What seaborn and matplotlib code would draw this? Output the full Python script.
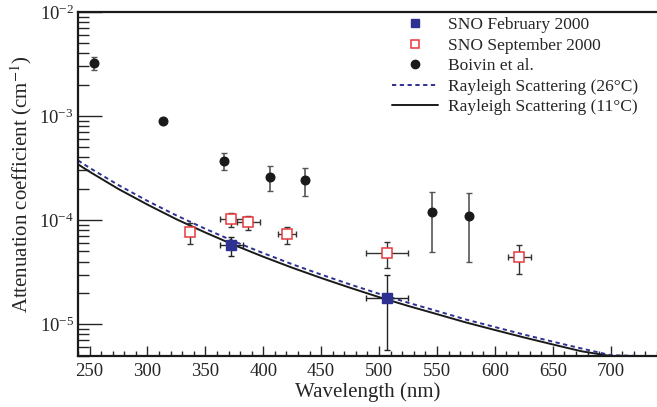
import numpy as np
import matplotlib
matplotlib.use("Agg")
import matplotlib.pyplot as plt
import matplotlib.ticker as mticker
from matplotlib.lines import Line2D
import seaborn as sns

sns.set_style("ticks")
plt.rcParams["font.family"] = ["Liberation Serif", "DejaVu Serif"]
plt.rcParams["mathtext.fontset"] = "stix"

# --- data ---
# Boivin et al. (value, lower, upper)
boivin_wl = [254, 313, 366, 406, 436, 546, 578]
boivin_val = [3.26e-3, 8.95e-4, 3.72e-4, 2.61e-4, 2.41e-4, 1.19e-4, 1.09e-4]
boivin_lo = [2.8e-3, 8.95e-4, 3.03e-4, 1.9e-4, 1.70e-4, 4.96e-5, 3.97e-5]
boivin_hi = [3.7e-3, 8.95e-4, 4.37e-4, 3.3e-4, 3.14e-4, 1.87e-4, 1.81e-4]

# SNO September 2000
sep_wl = [337, 372.5, 387, 420.5, 507, 621]
sep_wl_err = [0, 10, 10, 8, 18, 10]
sep_val = [7.62e-5, 1.02e-4, 9.5e-5, 7.28e-5, 4.85e-5, 4.4e-5]
sep_lo = [5.9e-5, 8.6e-5, 8.1e-5, 5.9e-5, 3.5e-5, 3.07e-5]
sep_hi = [9.3e-5, 1.16e-4, 1.10e-4, 8.6e-5, 6.2e-5, 5.75e-5]

# SNO February 2000
feb_wl = [372.5, 507]
feb_wl_err = [10, 18]
feb_val = [5.75e-5, 1.79e-5]
feb_lo = [4.5e-5, 5.7e-6]
feb_hi = [6.9e-5, 3.0e-5]

# Rayleigh scattering curves
ray_wl = [240, 250, 275, 300, 325, 350, 375, 400, 425, 450, 475, 500,
          525, 550, 575, 600, 625, 650, 675, 700, 725, 740]
ray_11 = [3.44e-4, 2.92e-4, 1.99e-4, 1.41e-4, 1.02e-4, 7.60e-5, 5.76e-5,
          4.45e-5, 3.49e-5, 2.78e-5, 2.24e-5, 1.82e-5, 1.50e-5, 1.25e-5,
          1.04e-5, 8.80e-6, 7.47e-6, 6.39e-6, 5.49e-6, 4.75e-6, 4.13e-6, 3.80e-6]
ray_26 = [3.75e-4, 3.18e-4, 2.17e-4, 1.53e-4, 1.11e-4, 8.25e-5, 6.24e-5,
          4.82e-5, 3.77e-5, 3.00e-5, 2.41e-5, 1.96e-5, 1.61e-5, 1.34e-5,
          1.11e-5, 9.40e-6, 7.96e-6, 6.80e-6, 5.84e-6, 5.04e-6, 4.38e-6, 4.03e-6]

YMIN, YMAX = 4.95e-6, 1e-2
XMIN, XMAX = 240, 740

BLUE = "#2e3192"
RED = "#e8383d"
BLACK = "#1a1a1a"

fig = plt.figure(figsize=(6.57, 4.07), dpi=100)
ax = fig.add_axes([78 / 657, 1 - 356 / 407, 1 - 78 / 657, (356 - 12) / 407])

# curves (drawn along the frame where they drop below it, like the original)
sns.lineplot(x=ray_wl, y=np.maximum(ray_11, YMIN), ax=ax, color=BLACK, lw=1.4,
             clip_on=False)
sns.lineplot(x=ray_wl, y=np.maximum(ray_26, YMIN), ax=ax, color=BLUE, lw=1.4,
             dashes=(2.2, 1.8), clip_on=False)


def yerr(val, lo, hi):
    v = np.array(val)
    return [v - np.array(lo), np.array(hi) - v]


ax.errorbar(boivin_wl, boivin_val, yerr=yerr(boivin_val, boivin_lo, boivin_hi),
            fmt="none", ecolor="#555555", elinewidth=1.2, capsize=2.5, capthick=1)
ax.errorbar(sep_wl, sep_val, xerr=sep_wl_err, yerr=yerr(sep_val, sep_lo, sep_hi),
            fmt="none", ecolor="#333333", elinewidth=1.0, capsize=2.5, capthick=1)
ax.errorbar(feb_wl, feb_val, xerr=feb_wl_err, yerr=yerr(feb_val, feb_lo, feb_hi),
            fmt="none", ecolor="#222222", elinewidth=1.0, capsize=2.5, capthick=1)

ax.plot(boivin_wl, boivin_val, "o", color=BLACK, ms=6.2, zorder=5)
ax.plot(sep_wl, sep_val, "s", mfc="white", mec=RED, mew=1.1, ms=6.5, zorder=5)
ax.plot(feb_wl, feb_val, "s", color=BLUE, ms=6.5, zorder=5)

ax.set_yscale("log")
ax.set_xlim(XMIN, XMAX)
ax.set_ylim(YMIN, YMAX)

ax.xaxis.set_major_locator(mticker.MultipleLocator(50))
ax.xaxis.set_minor_locator(mticker.MultipleLocator(10))
ax.yaxis.set_major_locator(mticker.LogLocator(base=10))
ax.yaxis.set_minor_locator(mticker.LogLocator(base=10, subs=np.arange(2, 10)))
ax.yaxis.set_minor_formatter(mticker.NullFormatter())

ax.tick_params(axis="x", which="major", direction="in", length=7, width=1,
               labelsize=13.5, pad=5, top=False)
ax.tick_params(axis="x", which="minor", direction="in", length=3.5, width=1, top=False)
ax.tick_params(axis="y", which="major", direction="in", length=17, width=1,
               labelsize=13.5, pad=3, right=False)
ax.tick_params(axis="y", which="minor", direction="in", length=8, width=1, right=False)

for side in ["left", "bottom", "top"]:
    ax.spines[side].set_linewidth(1.6)
    ax.spines[side].set_color(BLACK)
ax.spines["right"].set_visible(False)

ax.set_xlabel("Wavelength (nm)", fontsize=15, labelpad=2)
ax.set_ylabel("Attenuation coefficient (cm$^{-1}$)", fontsize=15, labelpad=4)

handles = [
    Line2D([], [], ls="none", marker="s", color=BLUE, ms=6),
    Line2D([], [], ls="none", marker="s", mfc="white", mec=RED, mew=1.1, ms=6),
    Line2D([], [], ls="none", marker="o", color=BLACK, ms=6),
    Line2D([], [], color=BLUE, lw=1.4, dashes=(2.2, 1.8)),
    Line2D([], [], color=BLACK, lw=1.4),
]
labels = ["SNO February 2000", "SNO September 2000", "Boivin et al.",
          "Rayleigh Scattering (26\u00b0C)", "Rayleigh Scattering (11\u00b0C)"]
fig.legend(handles, labels, loc="upper left", bbox_to_anchor=(392 / 657, 1 - 17 / 407),
           frameon=False, fontsize=12.5, handlelength=2.65, handletextpad=0.6,
           labelspacing=0.25, borderpad=0, borderaxespad=0)

fig.savefig("out.png", dpi=100)
